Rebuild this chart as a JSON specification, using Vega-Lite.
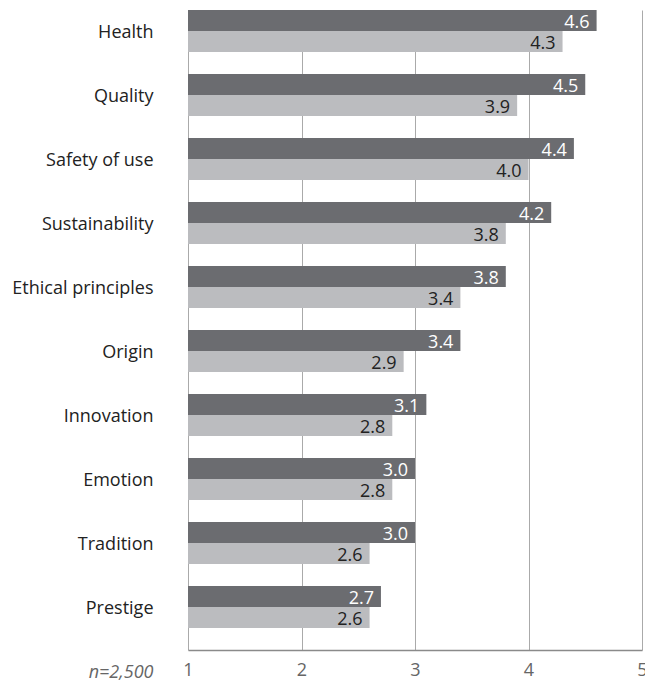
{
  "$schema": "https://vega.github.io/schema/vega-lite/v6.json",
  "width": 454,
  "height": 640,
  "autosize": {"type": "none"},
  "padding": {"left": 188, "top": 10, "right": 3, "bottom": 34},
  "config": {"view": {"stroke": null}, "font": "Open Sans"},
  "data": {
    "values": [
      {"attribute": "Health", "series": "A", "value": 4.6},
      {"attribute": "Health", "series": "B", "value": 4.3},
      {"attribute": "Quality", "series": "A", "value": 4.5},
      {"attribute": "Quality", "series": "B", "value": 3.9},
      {"attribute": "Safety of use", "series": "A", "value": 4.4},
      {"attribute": "Safety of use", "series": "B", "value": 4.0},
      {"attribute": "Sustainability", "series": "A", "value": 4.2},
      {"attribute": "Sustainability", "series": "B", "value": 3.8},
      {"attribute": "Ethical principles", "series": "A", "value": 3.8},
      {"attribute": "Ethical principles", "series": "B", "value": 3.4},
      {"attribute": "Origin", "series": "A", "value": 3.4},
      {"attribute": "Origin", "series": "B", "value": 2.9},
      {"attribute": "Innovation", "series": "A", "value": 3.1},
      {"attribute": "Innovation", "series": "B", "value": 2.8},
      {"attribute": "Emotion", "series": "A", "value": 3.0},
      {"attribute": "Emotion", "series": "B", "value": 2.8},
      {"attribute": "Tradition", "series": "A", "value": 3.0},
      {"attribute": "Tradition", "series": "B", "value": 2.6},
      {"attribute": "Prestige", "series": "A", "value": 2.7},
      {"attribute": "Prestige", "series": "B", "value": 2.6}
    ]
  },
  "encoding": {
    "y": {
      "field": "attribute",
      "type": "nominal",
      "sort": ["Health", "Quality", "Safety of use", "Sustainability", "Ethical principles", "Origin", "Innovation", "Emotion", "Tradition", "Prestige"],
      "scale": {"paddingInner": 0.34375, "paddingOuter": 0.171875, "align": 0},
      "axis": {
        "title": null,
        "domain": false,
        "ticks": false,
        "grid": false,
        "labelPadding": 35,
        "labelOffset": 2,
        "labelFontSize": 18,
        "labelColor": "#222222"
      }
    },
    "yOffset": {
      "field": "series",
      "type": "nominal",
      "sort": ["A", "B"],
      "scale": {"paddingInner": 0, "paddingOuter": 0}
    },
    "x": {
      "field": "value",
      "type": "quantitative",
      "scale": {"domain": [1, 5], "nice": false, "zero": false},
      "axis": {
        "values": [1, 2, 3, 4, 5],
        "format": "d",
        "grid": true,
        "gridColor": "#aaaaaa",
        "gridWidth": 1,
        "domain": true,
        "domainColor": "#8a8a8a",
        "domainWidth": 1.5,
        "ticks": false,
        "labelFlush": false,
        "labelFontSize": 18,
        "labelColor": "#666666",
        "labelPadding": 11,
        "title": "n=2,500",
        "titleFontStyle": "italic",
        "titleFontWeight": "normal",
        "titleFontSize": 18,
        "titleColor": "#666666",
        "titleX": -35,
        "titleY": 13,
        "titleAlign": "right",
        "titleBaseline": "top",
        "titleAngle": 0
      }
    }
  },
  "layer": [
    {
      "mark": {"type": "bar"},
      "encoding": {
        "x2": {"datum": 1},
        "color": {
          "field": "series",
          "type": "nominal",
          "scale": {"domain": ["A", "B"], "range": ["#6b6c70", "#bbbcbf"]},
          "legend": null
        }
      }
    },
    {
      "mark": {"type": "text", "align": "right", "baseline": "middle", "dx": -7, "dy": 2, "fontSize": 18},
      "encoding": {
        "text": {"field": "value", "type": "quantitative", "format": ".1f"},
        "color": {
          "field": "series",
          "type": "nominal",
          "scale": {"domain": ["A", "B"], "range": ["#ffffff", "#222222"]},
          "legend": null
        }
      }
    }
  ],
  "resolve": {"scale": {"color": "independent"}}
}
